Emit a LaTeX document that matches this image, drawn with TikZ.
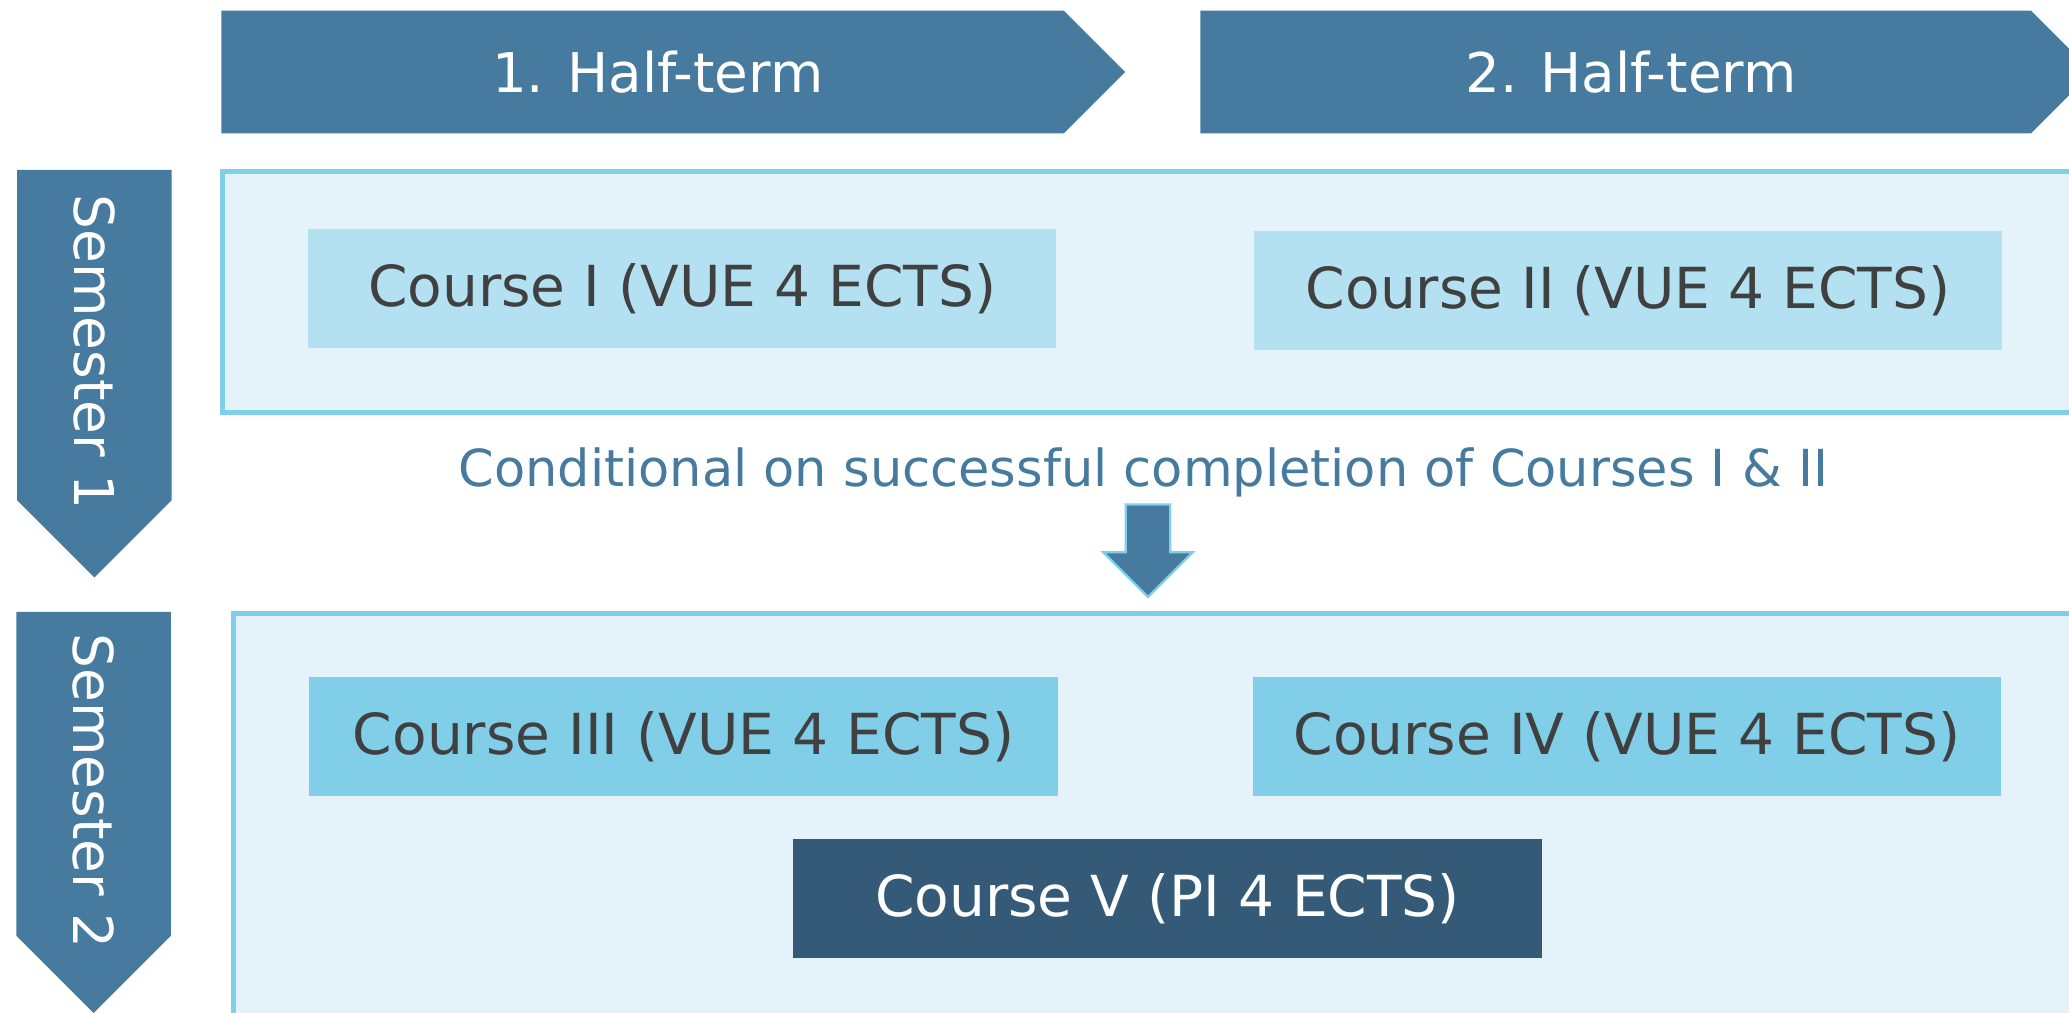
\documentclass[tikz,border=0pt]{standalone}
\usepackage{fontspec}
\setmainfont{DejaVu Sans}
\usepackage{tikz}
\usetikzlibrary{shapes,arrows,positioning}

\definecolor{steel}{RGB}{70,122,159}
\definecolor{navy}{RGB}{52,90,120}
\definecolor{paleblue}{RGB}{228,243,250}
\definecolor{lineblue}{RGB}{128,207,232}
\definecolor{lightcourse}{RGB}{179,225,241}
\definecolor{midcourse}{RGB}{128,206,231}
\definecolor{textgrey}{RGB}{64,64,64}

\begin{document}
\begin{tikzpicture}[
    halfterm/.style={signal, signal to=east, signal from=nowhere, fill=steel, text=white, minimum height=0.93cm, inner sep=0pt, anchor=west, font=\fontsize{11.8}{13}\selectfont},
    semester/.style={signal, signal to=east, signal from=nowhere, fill=steel, text=white, minimum height=1.17cm, inner sep=0pt, rotate=-90, anchor=west, font=\fontsize{11.85}{13}\selectfont},
    panel/.style={rectangle, draw=lineblue, line width=1pt, fill=paleblue, anchor=north west, inner sep=0pt},
    course/.style={rectangle, minimum width=5.67cm, minimum height=0.9cm, fill=lightcourse, text=textgrey, font=\fontsize{12.2}{14}\selectfont}
]
    \clip (0,0) rectangle (15.68,-7.67);

    \node[halfterm, minimum width=6.85cm] (ht1) at (1.67,-0.545) {\hspace*{0.23cm}1. Half-term};
    \node[halfterm, minimum width=6.76cm] (ht2) at (9.09,-0.545) {\hspace*{0.23cm}2. Half-term};

    \node[semester, minimum width=3.09cm] (sem1) at (0.715,-1.28) {\makebox[0pt]{\hspace*{0.26cm}Semester 1}};
    \node[semester, minimum width=3.04cm] (sem2) at (0.71,-4.63) {\makebox[0pt]{\hspace*{0.26cm}Semester 2}};

    \node[panel, minimum width=14.5cm, minimum height=1.83cm] (box1) at (1.67,-1.28) {};
    \node[panel, minimum width=14.5cm, minimum height=3.5cm] (box2) at (1.75,-4.63) {};

    \node[course] (c1) at (5.17,-2.187) {Course I (VUE 4 ECTS)};
    \node[course, right=1.485cm of c1, yshift=-0.013cm] (c2) {Course II (VUE 4 ECTS)};
    \node[course, fill=midcourse] (c3) at (5.18,-5.58) {Course III (VUE 4 ECTS)};
    \node[course, fill=midcourse, right=1.465cm of c3] (c4) {Course IV (VUE 4 ECTS)};
    \node[course, fill=navy, text=white] (c5) at (8.848,-6.81) {Course V (PI 4 ECTS)};

    \node[text=steel, font=\fontsize{11}{13}\selectfont, inner sep=0pt, anchor=base] (cond) at (8.665,-3.69) {Conditional on successful completion of Courses I \& II};

    \node[single arrow, rotate=-90, anchor=west, fill=steel, draw=lineblue, line width=0.5pt, minimum height=0.7cm, inner xsep=0pt, inner ysep=0.16cm, single arrow head extend=0.17cm] (go) at (8.70,-3.815) {};
\end{tikzpicture}
\end{document}
